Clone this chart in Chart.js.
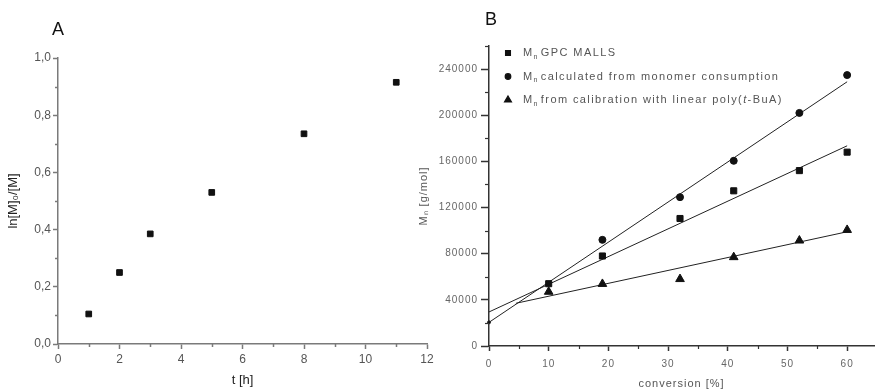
<!DOCTYPE html>
<html>
<head>
<meta charset="utf-8">
<script src="https://cdn.jsdelivr.net/npm/chart.js@4/dist/chart.umd.min.js"></script>
<style>
  html, body { margin: 0; padding: 0; background: #fff; }
  #wrap { position: relative; width: 880px; height: 391px; overflow: hidden; }
  #chart-a { position: absolute; left: 0; top: 0; }
  #chart-b { position: absolute; left: 410px; top: 0; }
</style>
</head>
<body>
<div id="wrap">
  <canvas id="chart-a" width="440" height="391"></canvas>
  <canvas id="chart-b" width="470" height="391"></canvas>
</div>
<script>
// panel A - kinetics
const tHours = [1, 2, 3, 5, 8, 11];
const lnRatio = [0.105, 0.25, 0.385, 0.53, 0.735, 0.915];
const aXMajor = [0, 2, 4, 6, 8, 10, 12];
const aXMinor = [1, 3, 5, 7, 9, 11];
const aYMajor = [0, 0.2, 0.4, 0.6, 0.8, 1.0];
const aYLabels = ["0,0", "0,2", "0,4", "0,6", "0,8", "1,0"];
const aYMinor = [0.1, 0.3, 0.5, 0.7, 0.9];

// panel B - Mn vs conversion
const conversion = [10, 19, 32, 41, 52, 60];
const mnGpc = [54000, 78000, 110500, 134500, 152000, 168000];
const mnCalc = [null, 92000, 129000, 160500, 202000, 234800];
const mnCalib = [47000, 53800, 58000, 77000, 91400, 100600];
// fitted lines (end points)
const calcFitX = [0, 60];
const calcFitY = [20500, 229000];
const gpcFitX = [0, 60];
const gpcFitY = [29500, 173500];
const calibFitX = [4.5, 60];
const calibFitY = [37000, 99000];
const bXMajor = [0, 10, 20, 30, 40, 50, 60];
const bXMinor = [5, 15, 25, 35, 45, 55];
const bYMajor = [0, 40000, 80000, 120000, 160000, 200000, 240000];
const bYMinor = [20000, 60000, 100000, 140000, 180000, 220000, 260000];
const seriesNames = ["GPC MALLS", "calculated from monomer consumption", "from calibration with linear poly(_t_-BuA)"];

const FONT = "'Liberation Sans', Arial, sans-serif";

function pts(xs, ys) {
  return xs.map((x, i) => ({ x: x, y: ys[i] })).filter(p => p.y !== null);
}

function near(list, v) {
  return list.findIndex(m => Math.abs(m - v) < 1e-6);
}

// short minor ticks + panel letter + custom legend
const extras = {
  id: "extras",
  beforeDraw(chart, args, opts) {
    chart.ctx.letterSpacing = opts.spacing || "0px";
  },
  afterDraw(chart, args, opts) {
    const ctx = chart.ctx;
    const area = chart.chartArea;
    ctx.save();
    ctx.strokeStyle = opts.tickColor;
    ctx.lineWidth = opts.tickWidth;
    const xs = chart.scales.x, ys = chart.scales.y;
    opts.xMinor.forEach(v => {
      const px = Math.round(xs.getPixelForValue(v)) + 0.5;
      ctx.beginPath();
      ctx.moveTo(px, xs.top);
      ctx.lineTo(px, xs.top + opts.xMinorLen);
      ctx.stroke();
    });
    opts.yMinor.forEach(v => {
      const py = Math.round(ys.getPixelForValue(v)) + 0.5;
      ctx.beginPath();
      ctx.moveTo(ys.right, py);
      ctx.lineTo(ys.right - opts.yMinorLen, py);
      ctx.stroke();
    });

    ctx.letterSpacing = "0px";
    ctx.fillStyle = "#111";
    ctx.font = "18px " + FONT;
    ctx.textBaseline = "middle";
    ctx.textAlign = "left";
    ctx.fillText(opts.letter, area.left + opts.letterDx, opts.letterY);

    if (opts.legend) {
      ctx.letterSpacing = "1.4px";
      seriesNames.forEach((name, i) => {
        const ds = chart.data.datasets[i];
        const y = area.top + 7 + i * 23.5;
        const mx = area.left + 19;
        ctx.fillStyle = "#111";
        ctx.strokeStyle = "#111";
        Chart.helpers.drawPoint(ctx, { pointStyle: ds.pointStyle, radius: ds.pointRadius * 0.8, rotation: 0, borderWidth: 1 }, mx, y);
        ctx.fillStyle = "#555";
        let x = area.left + 34;
        ctx.font = "11px " + FONT;
        ctx.fillText("M", x, y);
        x += ctx.measureText("M").width;
        ctx.font = "7px " + FONT;
        ctx.fillText("n", x, y + 4);
        x += ctx.measureText("n").width + 2;
        name.split("_").forEach((part, k) => {
          ctx.font = (k % 2 ? "italic " : "") + "11px " + FONT;
          ctx.fillText(part, x, y);
          x += ctx.measureText(part).width;
        });
      });
    }
    ctx.restore();
  }
};

function axis(opts) {
  const all = opts.major.concat(opts.minor).sort((a, b) => a - b);
  return {
    type: "linear",
    min: opts.min,
    max: opts.max,
    afterBuildTicks: s => { s.ticks = all.map(v => ({ value: v })); },
    afterFit: s => {
      if (opts.width) s.width = opts.width;
      if (opts.height) s.height = opts.height;
    },
    ticks: {
      autoSkip: false,
      maxRotation: 0,
      padding: opts.pad,
      color: opts.labelColor,
      font: { family: FONT, size: opts.fontSize },
      callback: v => {
        const i = near(opts.major, v);
        return i < 0 ? "" : opts.labels[i];
      }
    },
    grid: {
      drawOnChartArea: false,
      tickLength: opts.tickLen,
      tickWidth: opts.lineWidth,
      tickColor: c => (c.tick && near(opts.major, c.tick.value) >= 0) ? opts.lineColor : "rgba(0,0,0,0)"
    },
    border: { color: opts.lineColor, width: opts.lineWidth },
    title: {
      display: true,
      text: opts.title,
      color: opts.titleColor,
      padding: opts.titlePad,
      font: { family: FONT, size: opts.titleSize }
    }
  };
}

new Chart(document.getElementById("chart-a"), {
  type: "scatter",
  data: {
    datasets: [{
      data: pts(tHours, lnRatio),
      pointStyle: "rect",
      pointRadius: 4,
      backgroundColor: "#111",
      borderColor: "#111",
      borderWidth: 1
    }]
  },
  options: {
    responsive: false,
    animation: false,
    devicePixelRatio: 1,
    layout: { padding: { left: 0, top: 58, right: 13, bottom: 0 } },
    plugins: {
      legend: { display: false },
      tooltip: { enabled: false },
      extras: {
        tickColor: "#7a7a7a", tickWidth: 1.5,
        xMinor: aXMinor, yMinor: aYMinor, xMinorLen: 3, yMinorLen: 3,
        letter: "A", letterDx: -6, letterY: 30
      }
    },
    scales: {
      x: axis({
        min: 0, max: 12, major: aXMajor, minor: aXMinor, labels: aXMajor.map(String),
        height: 47, pad: 3, tickLen: 5, labelColor: "#555", fontSize: 12,
        lineColor: "#7a7a7a", lineWidth: 1.5,
        title: "t [h]", titleColor: "#222", titleSize: 13, titlePad: { top: 2, bottom: 3 }
      }),
      y: axis({
        min: 0, max: 1.0, major: aYMajor, minor: aYMinor, labels: aYLabels,
        width: 58, pad: 2, tickLen: 5, labelColor: "#555", fontSize: 12,
        lineColor: "#7a7a7a", lineWidth: 1.5,
        title: "ln[M]\u2080/[M]", titleColor: "#222", titleSize: 13, titlePad: { top: 6, bottom: 4 }
      })
    }
  },
  plugins: [extras]
});

const lineStyle = {
  showLine: true,
  borderColor: "#222",
  borderWidth: 1,
  pointRadius: 0,
  clip: false
};

new Chart(document.getElementById("chart-b"), {
  type: "scatter",
  data: {
    datasets: [
      { data: pts(conversion, mnGpc), pointStyle: "rect", pointRadius: 4.3, backgroundColor: "#111", borderColor: "#111", borderWidth: 1, clip: false },
      { data: pts(conversion, mnCalc), pointStyle: "circle", pointRadius: 3.5, backgroundColor: "#111", borderColor: "#111", borderWidth: 1, clip: false },
      { data: pts(conversion, mnCalib), pointStyle: "triangle", pointRadius: 5, backgroundColor: "#111", borderColor: "#111", borderWidth: 1, clip: false },
      Object.assign({ data: pts(calcFitX, calcFitY), pointBackgroundColor: "#111" }, lineStyle, { pointRadius: c => c.dataIndex === 0 ? 1.5 : 0 }),
      Object.assign({ data: pts(gpcFitX, gpcFitY) }, lineStyle),
      Object.assign({ data: pts(calibFitX, calibFitY) }, lineStyle)
    ]
  },
  options: {
    responsive: false,
    animation: false,
    devicePixelRatio: 1,
    layout: { padding: { left: 0, top: 46, right: 0, bottom: 0 } },
    plugins: {
      legend: { display: false },
      tooltip: { enabled: false },
      extras: {
        spacing: "1px",
        tickColor: "#333", tickWidth: 1.2,
        xMinor: bXMinor, yMinor: bYMinor, xMinorLen: 3, yMinorLen: 4,
        letter: "B", letterDx: -4, letterY: 20,
        legend: true
      }
    },
    scales: {
      x: axis({
        min: 0, max: 64.5, major: bXMajor, minor: bXMinor, labels: bXMajor.map(String),
        height: 45, pad: 7, tickLen: 5, labelColor: "#666", fontSize: 10,
        lineColor: "#333", lineWidth: 1.5,
        title: "conversion [%]", titleColor: "#555", titleSize: 11, titlePad: { top: 2, bottom: 0 }
      }),
      y: axis({
        min: 0, max: 260000, major: bYMajor, minor: bYMinor, labels: bYMajor.map(String),
        width: 79, pad: 3, tickLen: 8, labelColor: "#666", fontSize: 10,
        lineColor: "#333", lineWidth: 1.5,
        title: "M\u2099 [g/mol]", titleColor: "#555", titleSize: 11, titlePad: { top: 7, bottom: 4 }
      })
    }
  },
  plugins: [extras]
});
</script>
</body>
</html>
